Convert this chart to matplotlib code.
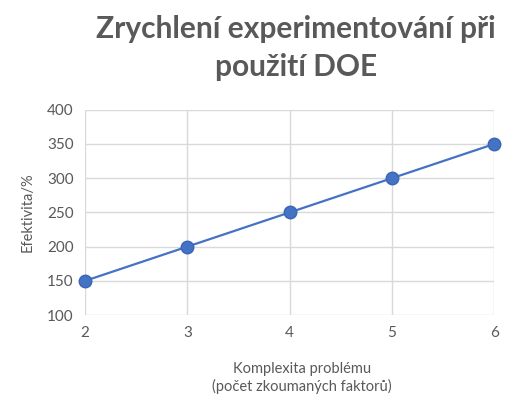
import matplotlib.pyplot as plt

complexity = [2, 3, 4, 5, 6]
efficiency = [150, 200, 250, 300, 350]

plt.rcParams['font.family'] = ['Lato', 'DejaVu Sans']
gray = "#595959"

fig = plt.figure(figsize=(5.28, 4.19), dpi=100)
ax = fig.add_axes([0.161, 0.248, 0.775, 0.49])
ax.plot(complexity, efficiency, color="#4472C4", lw=1.6, marker="o",
        markersize=9, markerfacecolor="#4472C4", markeredgecolor="#3A65B3",
        zorder=3, clip_on=False)

ax.set_xlim(2, 6)
ax.set_ylim(100, 400)
ax.set_xticks(complexity)
ax.set_yticks(range(100, 401, 50))
ax.grid(True, color="#D9D9D9", lw=1)
for s in ax.spines.values():
    s.set_visible(False)
ax.tick_params(length=0, colors=gray, labelsize=11, pad=8)
ax.set_xlabel("Komplexita problému\n(počet zkoumaných faktorů)", color=gray, fontsize=10.5,
              labelpad=16, x=0.53)
ax.set_ylabel("Efektivita/%", color=gray, fontsize=10.5, labelpad=9)

fig.text(0.56, 0.965, "Zrychlení experimentování při\npoužití DOE", ha="center", va="top",
         fontsize=21.5, fontweight="bold", color=gray, linespacing=1.45)

fig.savefig("out.png", dpi=100)
